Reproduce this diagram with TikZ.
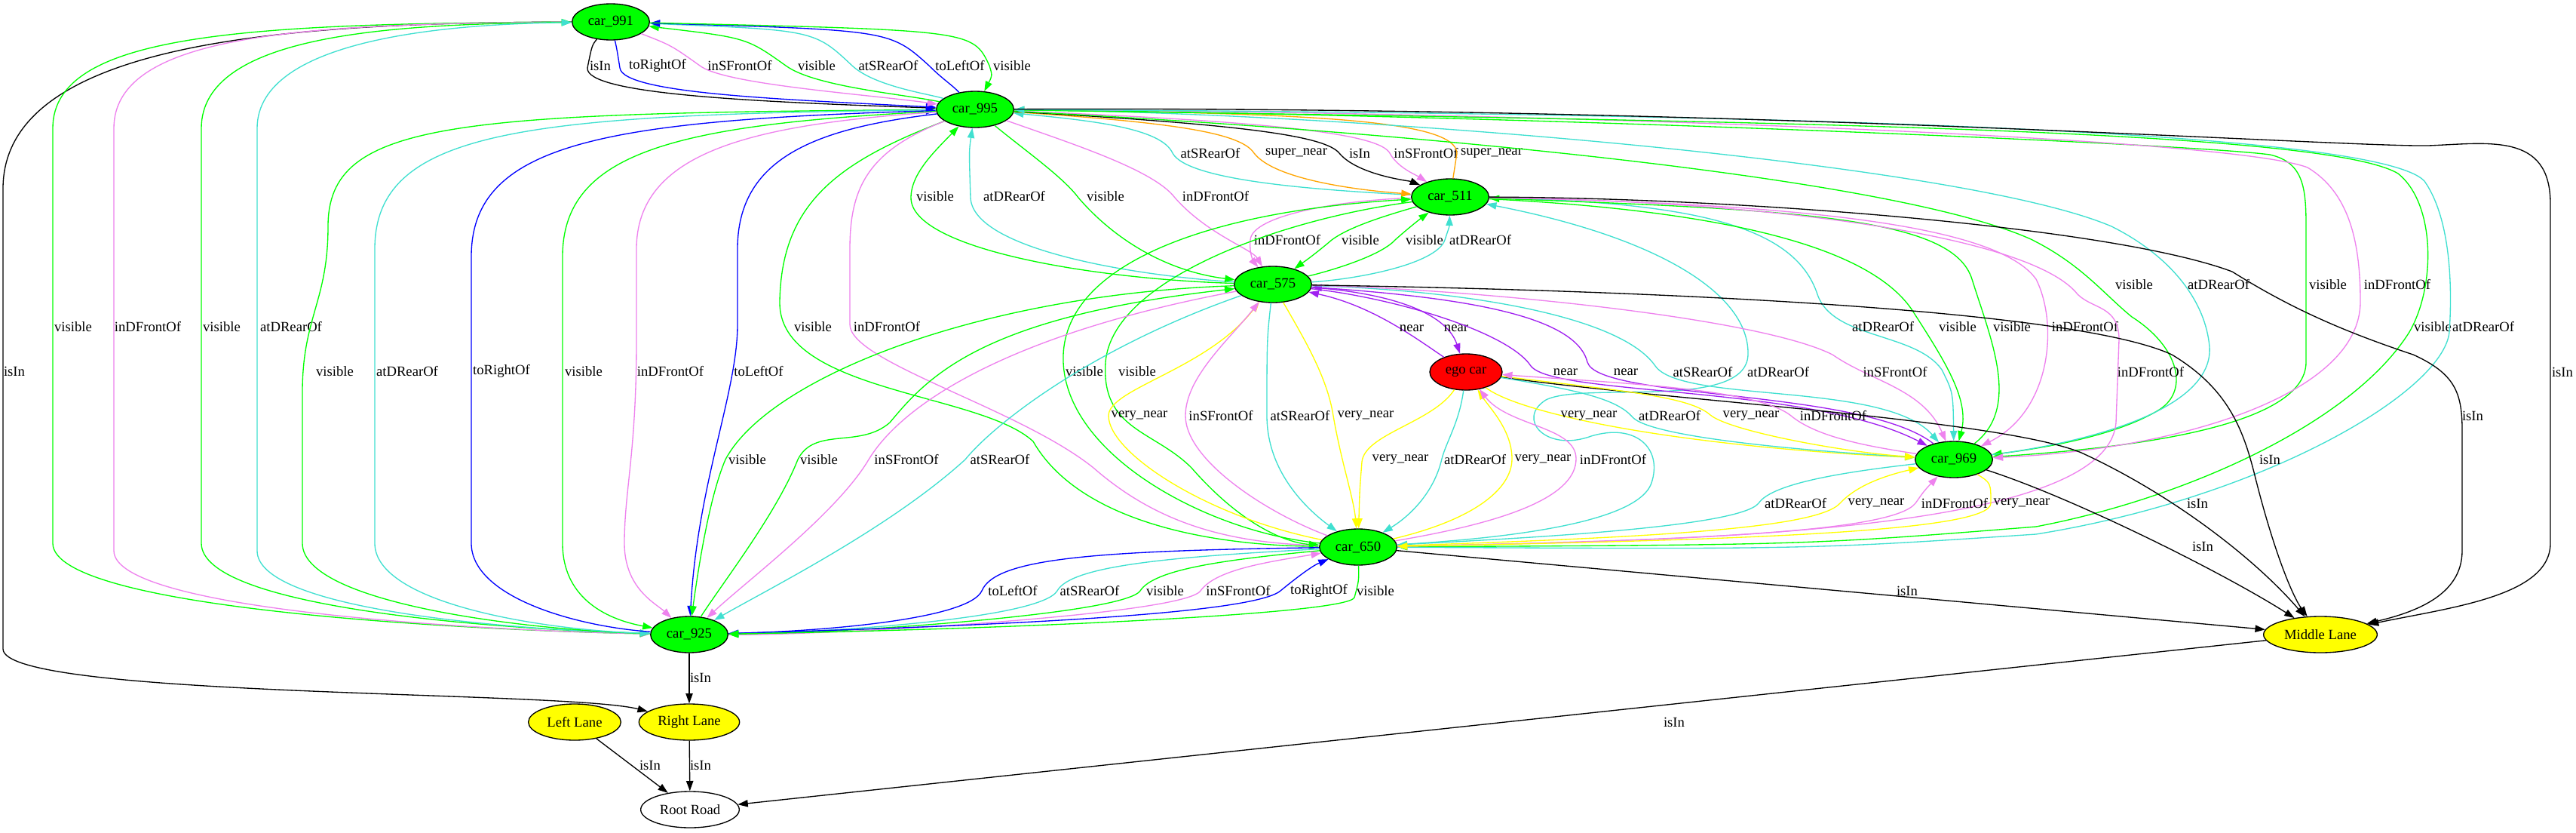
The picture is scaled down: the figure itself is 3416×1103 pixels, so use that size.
\documentclass[tikz,border=0pt]{standalone}
\usepackage{fontspec}
\setmainfont{Liberation Serif}
\usepackage{xcolor}
\usepackage{tikz}
\usetikzlibrary{shapes.geometric,arrows.meta}

\definecolor{gvgreen}{RGB}{0,255,0}
\definecolor{gvviolet}{RGB}{238,130,238}
\definecolor{gvturq}{RGB}{64,224,208}
\definecolor{gvblue}{RGB}{0,0,255}
\definecolor{gvorange}{RGB}{255,165,0}
\definecolor{gvyellow}{RGB}{255,255,0}
\definecolor{gvpurple}{RGB}{160,32,240}
\definecolor{gvred}{RGB}{255,0,0}

\begin{document}
\begin{tikzpicture}[
  x=0.75pt, y=-0.75pt,
  >={Triangle[length=10pt,width=7pt]},
  car/.style={draw, ellipse, line width=1pt, fill=gvgreen, minimum width=77pt, minimum height=36pt, inner sep=0pt, font=\fontsize{14}{17}\selectfont},
  egocar/.style={car, fill=gvred, minimum width=72pt},
  lane/.style={car, fill=gvyellow},
  road/.style={car, fill=white, minimum width=98pt},
  lbl/.style={inner sep=0pt, font=\fontsize{14}{17}\selectfont},
  rel/.style={line width=1pt},
  vis/.style={rel, draw=gvgreen},
  front/.style={rel, draw=gvviolet},
  rear/.style={rel, draw=gvturq},
  side/.style={rel, draw=gvblue},
  isin/.style={rel, draw=black},
  snear/.style={rel, draw=gvorange},
  vnear/.style={rel, draw=gvyellow},
  nearrel/.style={rel, draw=gvpurple},
]
  \useasboundingbox[fill=white] (0,0) rectangle (3416,1103);

  % Cars
  \node[car] (c991) at (810,29) {car\_991};
  \node[car] (c995) at (1293,145) {car\_995};
  \node[car] (c511) at (1923,261) {car\_511};
  \node[car] (c575) at (1688,377) {car\_575};
  \node[egocar] (ego) at (1944,493) {ego car};
  \node[car] (c969) at (2591,609) {car\_969};
  \node[car] (c650) at (1801,725) {car\_650};
  \node[car] (c925) at (914,841) {car\_925};

  % Lanes and road
  \node[lane, minimum width=113pt] (midlane) at (3077,841) {Middle Lane};
  \node[lane, minimum width=92pt] (leftlane) at (762,957) {Left Lane};
  \node[lane, minimum width=100pt] (rightlane) at (914,957) {Right Lane};
  \node[road] (rootroad) at (915,1073) {Root Road};

  % car_991 -- car_995
  \draw[isin,->] (c991) .. controls (785,60) .. (779,90) .. controls (776,125) and (1000,135) .. (c995);
  \node[lbl] (l01) at (796,87) {isIn};
  \draw[side,->] (c991) .. controls (818,65) .. (822,90) .. controls (826,125) and (1050,132) .. (c995);
  \node[lbl] (l02) at (872,87) {toRightOf};
  \draw[front,->] (c991) .. controls (890,60) .. (928,87) .. controls (960,112) and (1150,125) .. (c995);
  \node[lbl] (l03) at (981,87) {inSFrontOf};
  \draw[vis,<-] (c991) .. controls (990,50) .. (1042,87) .. controls (1080,115) and (1200,125) .. (c995);
  \node[lbl] (l04) at (1083,87) {visible};
  \draw[rear,<-] (c991) .. controls (1080,40) .. (1130,87) .. controls (1160,115) and (1235,125) .. (c995);
  \node[lbl] (l05) at (1178,87) {atSRearOf};
  \draw[side,<-] (c991) .. controls (1180,40) .. (1232,87) .. controls (1250,105) and (1262,112) .. (c995);
  \node[lbl] (l06) at (1273,87) {toLeftOf};
  \draw[vis,->] (c991) .. controls (1290,40) .. (1312,87) .. controls (1316,100) .. (c995);
  \node[lbl] (l07) at (1342,87) {visible};

  % car_991 -- Right Lane, car_925
  \draw[isin,->] (c991) .. controls (400,30) and (4,50) .. (4,250) -- (4,860) .. controls (4,925) and (750,915) .. (rightlane);
  \node[lbl] (l08) at (19,492) {isIn};
  \draw[vis,->] (c991) .. controls (320,31) and (70,45) .. (70,170) -- (70,720) .. controls (70,810) and (650,836) .. (c925);
  \node[lbl] (l09) at (97,433) {visible};
  \draw[front,->] (c991) .. controls (400,31) and (151,45) .. (151,170) -- (151,730) .. controls (151,810) and (650,836) .. (c925);
  \node[lbl] (l10) at (196,433) {inDFrontOf};
  \draw[vis,<-] (c991) .. controls (520,32) and (267,45) .. (267,170) -- (267,720) .. controls (267,805) and (650,834) .. (c925);
  \node[lbl] (l11) at (294,433) {visible};
  \draw[rear,<-] (c991) .. controls (600,32) and (341,50) .. (341,170) -- (341,730) .. controls (341,805) and (650,834) .. (c925);
  \node[lbl] (l12) at (386,433) {atDRearOf};

  % car_995 -- car_511
  \draw[rear,<-] (c995) .. controls (1450,160) and (1540,170) .. (1555,203) .. controls (1575,240) and (1750,252) .. (c511);
  \node[lbl] (l13) at (1605,203) {atSRearOf};
  \draw[snear,->] (c995) .. controls (1550,162) and (1645,175) .. (1663,203) .. controls (1690,238) and (1800,252) .. (c511);
  \node[lbl] (l14) at (1719,203) {super\_near};
  \draw[isin,->] (c995) .. controls (1650,165) and (1757,180) .. (1776,203) .. controls (1800,232) and (1870,240) .. (c511);
  \node[lbl] (l15) at (1803,203) {isIn};
  \draw[front,->] (c995) .. controls (1720,162) and (1830,180) .. (1843,203) .. controls (1853,222) and (1878,232) .. (c511);
  \node[lbl] (l16) at (1891,203) {inSFrontOf};
  \draw[snear,<-] (c995) .. controls (1750,150) and (1930,160) .. (1932,203) -- (c511);
  \node[lbl] (l17) at (1978,203) {super\_near};

  % car_995 -- car_575
  \draw[vis,<-] (c995) .. controls (1240,200) and (1208,230) .. (1208,262) .. controls (1208,330) and (1450,370) .. (c575);
  \node[lbl] (l18) at (1240,260) {visible};
  \draw[rear,<-] (c995) .. controls (1285,200) .. (1287,262) .. controls (1290,330) and (1500,365) .. (c575);
  \node[lbl] (l19) at (1345,260) {atDRearOf};
  \draw[vis,->] (c995) .. controls (1360,200) and (1410,235) .. (1430,262) .. controls (1480,320) and (1550,360) .. (c575);
  \node[lbl] (l20) at (1466,260) {visible};
  \draw[front,->] (c995) .. controls (1420,190) and (1530,225) .. (1558,262) .. controls (1600,310) and (1660,330) .. (c575);
  \node[lbl] (l21) at (1612,260) {inDFrontOf};

  % car_511 -- car_575
  \draw[front,->] (c511) .. controls (1780,265) and (1660,285) .. (1658,318) .. controls (1656,340) and (1665,350) .. (c575);
  \node[lbl] (l22) at (1707,318) {inDFrontOf};
  \draw[vis,->] (c511) .. controls (1840,285) and (1790,300) .. (1766,318) .. controls (1740,340) and (1725,350) .. (c575);
  \node[lbl] (l23) at (1804,318) {visible};
  \draw[vis,->] (c575) .. controls (1760,360) and (1830,340) .. (1850,318) .. controls (1870,300) and (1890,285) .. (c511);
  \node[lbl] (l24) at (1889,318) {visible};
  \draw[rear,->] (c575) .. controls (1800,370) and (1905,350) .. (1916,318) .. controls (1922,300) .. (c511);
  \node[lbl] (l25) at (1963,318) {atDRearOf};

  % car_995 -- car_969
  \draw[vis,->] (c995) .. controls (1800,170) and (2500,230) .. (2693,317) .. controls (2760,350) and (2790,390) .. (2827,420) .. controls (2890,460) and (2905,520) .. (2860,545) .. controls (2800,580) and (2700,595) .. (c969);
  \node[lbl] (l26) at (2830,377) {visible};
  \draw[rear,<-] (c995) .. controls (1800,150) and (2600,215) .. (2800,300) .. controls (2880,340) and (2925,400) .. (2930,460) .. controls (2935,540) and (2780,585) .. (c969);
  \node[lbl] (l27) at (2942,377) {atDRearOf};
  \draw[vis,->] (c995) .. controls (2000,152) and (2900,190) .. (3010,205) .. controls (3055,215) and (3058,250) .. (3058,300) -- (3058,480) .. controls (3058,570) and (2800,595) .. (c969);
  \node[lbl] (l28) at (3087,377) {visible};
  \draw[front,->] (c995) .. controls (2000,148) and (2950,180) .. (3060,222) .. controls (3115,255) and (3130,320) .. (3130,400) .. controls (3130,520) and (2900,595) .. (c969);
  \node[lbl] (l29) at (3179,377) {inDFrontOf};

  % car_995 -- car_650
  \draw[vis,->] (c995) .. controls (1110,215) and (1036,270) .. (1034,400) .. controls (1032,520) and (1300,520) .. (1370,585) .. controls (1430,690) and (1600,722) .. (c650);
  \node[lbl] (l30) at (1078,433) {visible};
  \draw[front,->] (c995) .. controls (1150,200) and (1127,250) .. (1127,330) -- (1127,430) .. controls (1127,480) and (1350,540) .. (1450,620) .. controls (1530,690) and (1620,718) .. (c650);
  \node[lbl] (l31) at (1176,433) {inDFrontOf};
  \draw[vis,->] (c995) .. controls (2300,160) and (3080,170) .. (3180,230) .. controls (3230,270) and (3230,380) .. (3195,440) .. controls (3120,560) and (2900,660) .. (2700,698) .. controls (2400,722) .. (c650);
  \node[lbl] (l32) at (3226,433) {visible};
  \draw[rear,<-] (c995) .. controls (2300,150) and (3150,170) .. (3215,240) .. controls (3250,290) and (3252,380) .. (3248,440) .. controls (3240,520) and (3000,660) .. (2700,708) .. controls (2400,728) .. (c650);
  \node[lbl] (l33) at (3293,433) {atDRearOf};

  % car_575 -- ego car
  \draw[nearrel,->] (ego) .. controls (1880,450) and (1820,405) .. (c575);
  \node[lbl] (l34) at (1872,435) {near};
  \draw[nearrel,->] (c575) .. controls (1860,390) and (1920,420) .. (ego);
  \node[lbl] (l35) at (1931,435) {near};

  % car_511 -- car_969
  \draw[rear,->] (c511) .. controls (2250,268) and (2380,300) .. (2410,390) .. controls (2430,450) and (2540,440) .. (2575,490) .. controls (2590,520) .. (c969);
  \node[lbl] (l36) at (2497,433) {atDRearOf};
  \draw[vis,->] (c511) .. controls (2300,280) and (2480,330) .. (2535,410) .. controls (2580,480) and (2612,530) .. (c969);
  \node[lbl] (l37) at (2596,433) {visible};
  \draw[vis,<-] (c511) .. controls (2400,278) and (2590,290) .. (2615,370) .. controls (2640,450) and (2680,540) .. (c969);
  \node[lbl] (l38) at (2668,433) {visible};
  \draw[front,->] (c511) .. controls (2400,270) and (2650,300) .. (2700,370) .. controls (2730,430) and (2720,545) .. (c969);
  \node[lbl] (l39) at (2765,433) {inDFrontOf};

  % car_995 -- car_925
  \draw[vis,->] (c995) .. controls (600,150) and (435,160) .. (435,300) .. controls (435,400) and (401,420) .. (401,520) -- (401,720) .. controls (401,800) and (700,835) .. (c925);
  \node[lbl] (l40) at (444,492) {visible};
  \draw[rear,->] (c995) .. controls (700,152) and (497,170) .. (497,330) -- (497,720) .. controls (497,800) and (720,835) .. (c925);
  \node[lbl] (l41) at (540,492) {atDRearOf};
  \draw[side,<-] (c995) .. controls (800,160) and (625,190) .. (625,340) -- (625,720) .. controls (625,790) and (760,830) .. (c925);
  \node[lbl] (l42) at (665,492) {toRightOf};
  \draw[vis,->] (c995) .. controls (900,165) and (746,200) .. (746,340) -- (746,720) .. controls (746,790) and (800,820) .. (c925);
  \node[lbl] (l43) at (774,492) {visible};
  \draw[front,->] (c995) .. controls (1000,165) and (844,200) .. (844,330) -- (844,450) .. controls (844,600) and (828,650) .. (828,720) .. controls (828,780) and (870,800) .. (c925);
  \node[lbl] (l44) at (889,492) {inDFrontOf};
  \draw[side,->] (c995) .. controls (1080,170) and (978,210) .. (978,330) -- (978,430) .. controls (978,520) and (925,640) .. (c925);
  \node[lbl] (l45) at (1006,492) {toLeftOf};

  % car_511 -- car_650
  \draw[vis,<-] (c511) .. controls (1600,280) and (1415,350) .. (1410,470) .. controls (1405,600) and (1600,705) .. (c650);
  \node[lbl] (l46) at (1438,492) {visible};
  \draw[vis,->] (c511) .. controls (1700,290) and (1475,370) .. (1466,480) .. controls (1460,570) and (1530,570) .. (1580,620) .. controls (1650,700) and (1710,720) .. (c650);
  \node[lbl] (l47) at (1508,492) {visible};
  \draw[rear,<-] (c511) .. controls (2200,315) and (2320,390) .. (2318,470) .. controls (2316,545) and (2100,505) .. (2050,530) .. controls (2010,555) and (2050,600) .. (2110,578) .. controls (2170,560) and (2205,595) .. (2190,640) .. controls (2170,700) and (1950,716) .. (c650);
  \node[lbl] (l48) at (2358,493) {atDRearOf};
  \draw[front,->] (c511) .. controls (2400,268) and (2700,320) .. (2755,390) .. controls (2775,410) and (2810,405) .. (2810,450) -- (2806,560) .. controls (2795,700) and (2300,716) .. (c650);
  \node[lbl] (l49) at (2852,493) {inDFrontOf};

  % car_575 -- car_969
  \draw[nearrel,->] (c575) .. controls (1850,395) and (2000,440) .. (2030,485) .. controls (2060,525) and (2400,510) .. (c969);
  \node[lbl] (l50) at (2076,493) {near};
  \draw[nearrel,<-] (c575) .. controls (1950,395) and (2090,420) .. (2105,480) .. controls (2120,530) and (2470,515) .. (c969);
  \node[lbl] (l51) at (2156,493) {near};
  \draw[rear,->] (c575) .. controls (1950,385) and (2150,420) .. (2195,485) .. controls (2230,535) and (2500,505) .. (c969);
  \node[lbl] (l52) at (2258,493) {atSRearOf};
  \draw[front,->] (c575) .. controls (1950,383) and (2330,420) .. (2430,470) .. controls (2480,505) and (2550,515) .. (c969);
  \node[lbl] (l53) at (2513,493) {inSFrontOf};

  % Middle Lane
  \draw[isin,->] (c995) .. controls (2300,140) and (3100,195) .. (3220,193) .. controls (3300,190) and (3382,175) .. (3382,270) -- (3382,720) .. controls (3382,790) and (3250,805) .. (midlane);
  \node[lbl] (l54) at (3398,493) {isIn};
  \draw[isin,->] (c511) .. controls (2300,262) and (2800,300) .. (2960,360) .. controls (3040,410) and (3110,440) .. (3200,470) .. controls (3255,495) and (3265,520) .. (3265,570) -- (3265,730) .. controls (3265,790) and (3200,812) .. (midlane);
  \node[lbl] (l55) at (3279,551) {isIn};
  \draw[isin,->] (c575) .. controls (2200,385) and (2750,410) .. (2880,470) .. controls (2955,515) and (2975,570) .. (2990,630) .. controls (3015,730) and (3040,790) .. (midlane);
  \node[lbl] (l56) at (3010,609) {isIn};
  \draw[isin,->] (ego) .. controls (2200,530) and (2650,555) .. (2760,600) .. controls (2880,655) and (2990,740) .. (midlane);
  \node[lbl] (l57) at (2914,667) {isIn};
  \draw[isin,->] (c969) .. controls (2750,660) and (2950,760) .. (midlane);
  \node[lbl] (l58) at (2921,724) {isIn};
  \draw[isin,->] (c650) -- (midlane);
  \node[lbl] (l59) at (2529,783) {isIn};

  % ego car -- car_969
  \draw[vnear,->] (ego) .. controls (2010,545) and (2200,590) .. (c969);
  \node[lbl] (l60) at (2107,551) {very\_near};
  \draw[rear,->] (ego) .. controls (2100,518) and (2145,530) .. (2165,553) .. controls (2190,580) and (2400,598) .. (c969);
  \node[lbl] (l61) at (2214,551) {atDRearOf};
  \draw[vnear,->] (ego) .. controls (2150,518) and (2240,525) .. (2268,550) .. controls (2295,572) and (2450,600) .. (c969);
  \node[lbl] (l62) at (2322,551) {very\_near};
  \draw[front,<-] (ego) .. controls (2150,508) and (2330,515) .. (2375,551) .. controls (2410,580) and (2480,592) .. (c969);
  \node[lbl] (l63) at (2431,551) {inDFrontOf};

  % ego car -- car_650
  \draw[vnear,->] (ego) .. controls (1900,560) and (1810,575) .. (1806,612) .. controls (1803,650) .. (c650);
  \node[lbl] (l64) at (1857,609) {very\_near};
  \draw[rear,->] (ego) .. controls (1935,560) and (1918,585) .. (1912,608) .. controls (1900,660) and (1860,690) .. (c650);
  \node[lbl] (l65) at (1956,609) {atDRearOf};
  \draw[vnear,->] (c650) .. controls (1950,690) and (2005,650) .. (2005,608) .. controls (2005,570) and (1975,540) .. (ego);
  \node[lbl] (l66) at (2046,609) {very\_near};
  \draw[front,->] (c650) .. controls (2010,690) and (2090,655) .. (2090,608) .. controls (2090,565) and (2000,565) .. (ego);
  \node[lbl] (l67) at (2139,609) {inDFrontOf};

  % car_969 -- car_650
  \draw[rear,->] (c969) .. controls (2450,625) and (2350,640) .. (2332,667) .. controls (2305,700) and (2000,714) .. (c650);
  \node[lbl] (l68) at (2381,667) {atDRearOf};
  \draw[vnear,->] (c650) .. controls (2200,712) and (2410,700) .. (2440,667) .. controls (2465,640) and (2510,628) .. (c969);
  \node[lbl] (l69) at (2488,667) {very\_near};
  \draw[front,->] (c650) .. controls (2250,716) and (2510,705) .. (2540,667) .. controls (2552,650) .. (c969);
  \node[lbl] (l70) at (2592,667) {inDFrontOf};
  \draw[vnear,->] (c969) .. controls (2640,640) .. (2640,667) .. controls (2640,705) and (2300,716) .. (c650);
  \node[lbl] (l71) at (2681,667) {very\_near};

  % car_575 -- car_650
  \draw[vnear,->] (c650) .. controls (1600,685) and (1470,600) .. (1470,551) .. controls (1470,515) and (1600,490) .. (c575);
  \node[lbl] (l72) at (1511,551) {very\_near};
  \draw[front,->] (c650) .. controls (1680,680) and (1572,610) .. (1572,551) .. controls (1572,500) and (1630,450) .. (c575);
  \node[lbl] (l73) at (1619,551) {inSFrontOf};
  \draw[rear,->] (c575) .. controls (1680,450) .. (1680,551) .. controls (1680,630) and (1740,680) .. (c650);
  \node[lbl] (l74) at (1724,551) {atSRearOf};
  \draw[vnear,->] (c575) .. controls (1730,450) and (1760,500) .. (1768,551) .. controls (1778,610) and (1795,660) .. (c650);
  \node[lbl] (l75) at (1811,551) {very\_near};

  % car_575 -- car_925
  \draw[vis,->] (c575) .. controls (1300,390) and (1020,500) .. (962,609) .. controls (940,660) and (925,760) .. (c925);
  \node[lbl] (l76) at (991,609) {visible};
  \draw[vis,<-] (c575) .. controls (1300,420) and (1230,500) .. (1180,560) .. controls (1140,595) and (1080,565) .. (1058,609) .. controls (1030,680) and (960,770) .. (c925);
  \node[lbl] (l77) at (1086,609) {visible};
  \draw[front,->] (c575) .. controls (1350,440) and (1200,530) .. (1152,609) .. controls (1110,680) and (990,770) .. (c925);
  \node[lbl] (l78) at (1202,609) {inSFrontOf};
  \draw[rear,->] (c575) .. controls (1450,460) and (1320,560) .. (1280,609) .. controls (1180,700) and (1020,780) .. (c925);
  \node[lbl] (l79) at (1326,609) {atSRearOf};

  % car_650 -- car_925
  \draw[side,->] (c650) .. controls (1450,730) and (1320,740) .. (1302,783) .. controls (1285,820) and (1100,836) .. (c925);
  \node[lbl] (l80) at (1343,783) {toLeftOf};
  \draw[rear,->] (c650) .. controls (1550,738) and (1420,750) .. (1402,783) .. controls (1380,820) and (1100,838) .. (c925);
  \node[lbl] (l81) at (1445,783) {atSRearOf};
  \draw[vis,->] (c650) .. controls (1620,742) and (1530,755) .. (1512,783) .. controls (1490,815) and (1100,840) .. (c925);
  \node[lbl] (l82) at (1545,783) {visible};
  \draw[front,<-] (c650) .. controls (1680,745) and (1612,755) .. (1592,783) .. controls (1570,815) and (1100,842) .. (c925);
  \node[lbl] (l83) at (1642,783) {inSFrontOf};
  \draw[side,->] (c925) .. controls (1300,830) and (1660,815) .. (1698,783) .. controls (1720,765) and (1740,750) .. (c650);
  \node[lbl] (l84) at (1749,783) {toRightOf};
  \draw[vis,->] (c650) .. controls (1802,770) .. (1796,792) .. controls (1785,815) and (1300,835) .. (c925);
  \node[lbl] (l85) at (1824,783) {visible};

  % Lanes to road
  \draw[isin,->] (c925) -- (rightlane);
  \node[lbl] (l86) at (929,898) {isIn};
  \draw[isin,->] (leftlane) -- (rootroad);
  \node[lbl] (l87) at (862,1014) {isIn};
  \draw[isin,->] (rightlane) -- (rootroad);
  \node[lbl] (l88) at (929,1014) {isIn};
  \draw[isin,->] (midlane) -- (rootroad);
  \node[lbl] (l89) at (2220,957) {isIn};

\end{tikzpicture}
\end{document}
